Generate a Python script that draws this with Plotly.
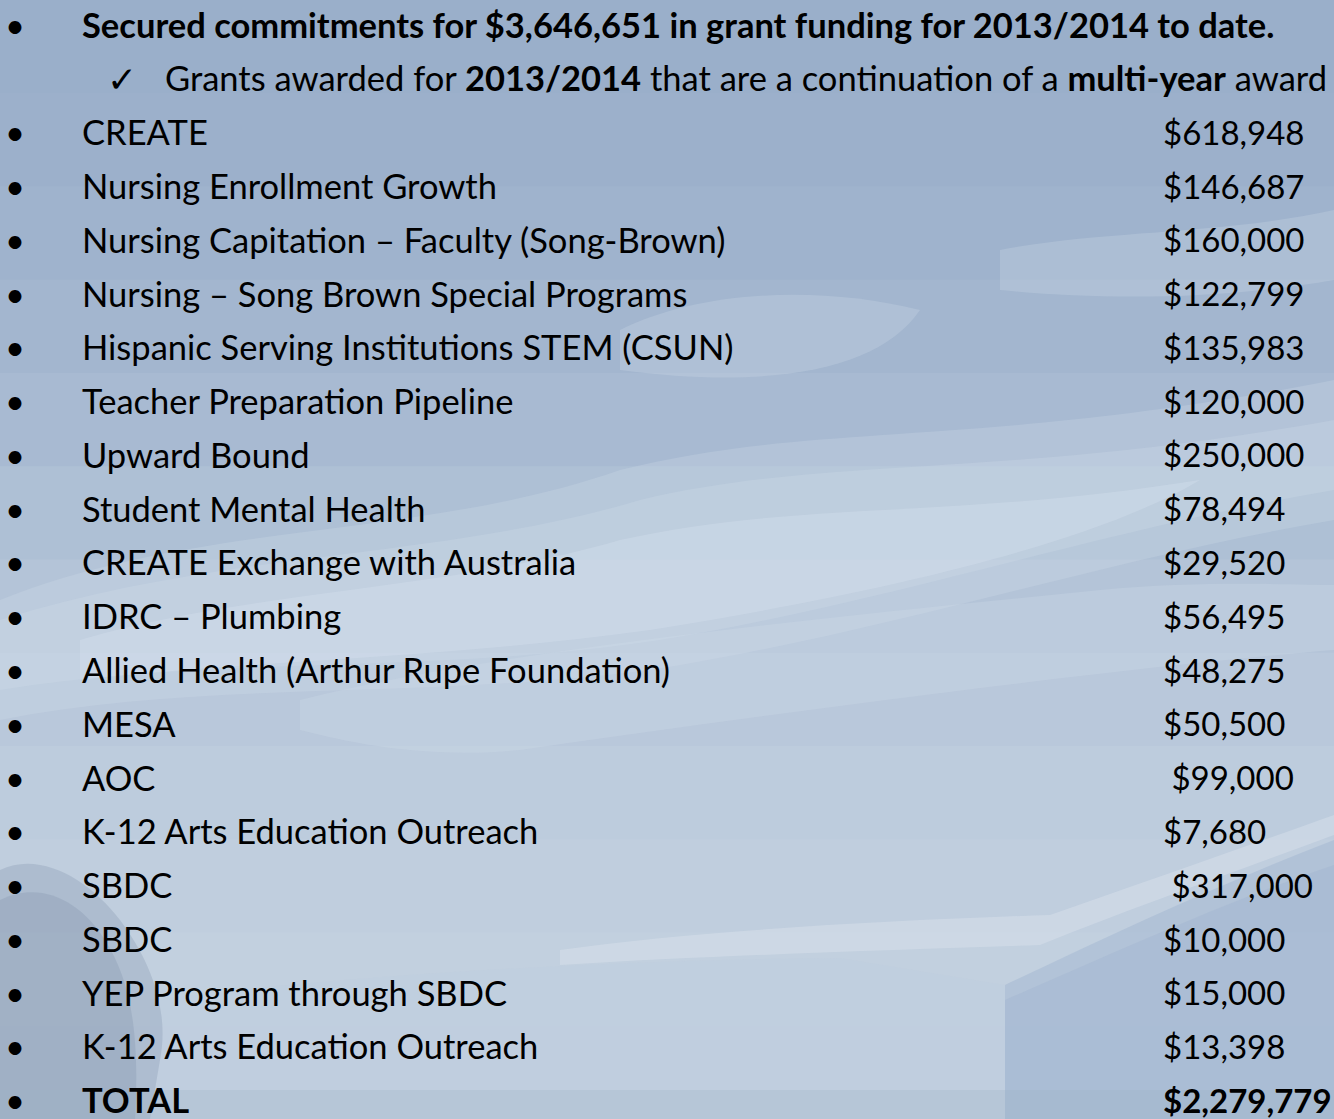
import plotly.graph_objects as go

# ---------------- data ----------------
title_text = "<b>Secured commitments for $3,646,651 in grant funding for 2013/2014 to date.</b>"
subtitle_text = "Grants awarded for <b>2013/2014</b> that are a continuation of a <b>multi-year</b> award"

grant_names = [
    "CREATE",
    "Nursing Enrollment Growth",
    "Nursing Capitation – Faculty (Song-Brown)",
    "Nursing – Song Brown Special Programs",
    "Hispanic Serving Institutions STEM (CSUN)",
    "Teacher Preparation Pipeline",
    "Upward Bound",
    "Student Mental Health",
    "CREATE Exchange with Australia",
    "IDRC – Plumbing",
    "Allied Health (Arthur Rupe Foundation)",
    "MESA",
    "AOC",
    "K-12 Arts Education Outreach",
    "SBDC",
    "SBDC",
    "YEP Program through SBDC",
    "K-12 Arts Education Outreach",
]
grant_amounts = [618948, 146687, 160000, 122799, 135983, 120000, 250000, 78494,
                 29520, 56495, 48275, 50500, 99000, 7680, 317000, 10000, 15000, 13398]
# amounts that carry a leading space in the original slide
leading_space = [False, False, False, False, False, False, False, False,
                 False, False, False, False, True, False, True, False, False, False]
total_label = "TOTAL"
total_amount = 2279779

# ---------------- layout helpers ----------------
W, H = 1334, 1119
ROW0, ROWSTEP = 29.0, 53.78
FONT = "Lato"
FS = 34.5      # label text
FS_AMT = 33    # amount text
TXT = "#000000"

n_items = len(grant_names)
item_rows = [2 + i for i in range(n_items)]
total_row = 2 + n_items

fig = go.Figure()

# bullets
bullet_rows = [0] + item_rows + [total_row]
fig.add_trace(go.Scatter(
    x=[15] * len(bullet_rows), y=bullet_rows, mode="text",
    text=["•"] * len(bullet_rows), textposition="middle center",
    textfont=dict(family=FONT, size=FS, color=TXT), hoverinfo="skip"))

# title
fig.add_trace(go.Scatter(
    x=[82], y=[0], mode="text", text=[title_text], textposition="middle right",
    textfont=dict(family=FONT, size=FS, color=TXT), hoverinfo="skip"))

# check + subtitle
fig.add_trace(go.Scatter(
    x=[122], y=[1], mode="text", text=["✓"], textposition="middle center",
    textfont=dict(family="DejaVu Sans", size=36, color=TXT), hoverinfo="skip"))
fig.add_trace(go.Scatter(
    x=[165], y=[1], mode="text", text=[subtitle_text], textposition="middle right",
    textfont=dict(family=FONT, size=FS, color=TXT), hoverinfo="skip"))

# grant names
fig.add_trace(go.Scatter(
    x=[82] * n_items, y=item_rows, mode="text", text=grant_names,
    textposition="middle right",
    textfont=dict(family=FONT, size=FS, color=TXT), hoverinfo="skip"))

# amounts
amount_labels = [(" " if sp else "") + "${:,}".format(v) for v, sp in zip(grant_amounts, leading_space)]
fig.add_trace(go.Scatter(
    x=[1163] * n_items, y=item_rows, mode="text", text=amount_labels,
    textposition="middle right",
    textfont=dict(family=FONT, size=FS_AMT, color=TXT), hoverinfo="skip"))

# total
fig.add_trace(go.Scatter(
    x=[82], y=[total_row], mode="text", text=["<b>" + total_label + "</b>"],
    textposition="middle right",
    textfont=dict(family=FONT, size=FS, color=TXT), hoverinfo="skip"))
fig.add_trace(go.Scatter(
    x=[1163], y=[total_row], mode="text", text=["<b>${:,}</b>".format(total_amount)],
    textposition="middle right",
    textfont=dict(family=FONT, size=FS_AMT, color=TXT), hoverinfo="skip"))

# ---------------- background (photo approximation) ----------------
shapes = []
# vertical gradient bands
band_colors = ["#9aafca", "#9cb0cb", "#9fb3cd", "#a3b6cf", "#a8bad2", "#aec0d5",
               "#b4c4d8", "#b9c8db", "#bdccdd", "#c0cede", "#c2d0df", "#c1cfdf"]
nb = len(band_colors)
for i, c in enumerate(band_colors):
    shapes.append(dict(type="rect", xref="paper", yref="paper",
                       x0=0, x1=1, y0=1 - (i + 1) / nb - 0.002, y1=1 - i / nb,
                       fillcolor=c, line=dict(width=0), layer="below"))

def soft(path_list, rgba):
    for p in path_list:
        shapes.append(dict(type="path", path=p, xref="x", yref="y2",
                           fillcolor=rgba, line=dict(width=0), layer="below"))

# soft clouds: layered translucent blobs to fake blur
soft([
    "M 0,600 C 200,520 420,540 620,470 C 820,420 980,450 1334,380 L 1334,520 C 1100,560 900,630 650,670 C 420,700 200,680 0,720 Z",
    "M 0,620 C 220,550 440,560 640,500 C 830,455 1000,480 1334,420 L 1334,490 C 1100,530 900,600 660,640 C 430,675 210,655 0,690 Z",
    "M 300,700 C 500,650 800,620 1100,590 C 1200,580 1300,585 1334,585 L 1334,650 C 1100,670 800,710 520,750 C 420,760 340,740 300,730 Z",
    "M 620,330 C 700,290 820,285 920,310 C 880,370 770,390 620,370 Z",
    "M 1000,250 C 1100,230 1220,235 1334,210 L 1334,280 C 1220,300 1100,300 1000,290 Z",
], "rgba(212,223,236,0.25)")
soft([
    "M 80,640 C 250,590 450,590 620,540 C 800,500 950,520 1200,480 C 1100,540 900,590 650,630 C 430,660 250,660 80,680 Z",
], "rgba(220,230,241,0.3)")

# building glass facade (right)
soft(["M 1005,1119 L 1005,985 C 1120,930 1230,880 1334,840 L 1334,1119 Z"],
     "rgba(150,172,202,0.35)")
soft(["M 1005,1119 L 1005,1000 C 1120,950 1230,900 1334,865 L 1334,1119 Z"],
     "rgba(150,172,202,0.25)")
# building roof edge highlight
soft(["M 560,950 C 700,930 900,920 1050,915 C 1150,880 1250,845 1334,815 L 1334,835 C 1240,870 1140,905 1040,945 C 900,950 720,955 560,965 Z"],
     "rgba(225,233,242,0.35)")
# building lower body (left/middle)
soft(["M 150,1119 L 150,1000 C 350,975 600,960 840,958 L 1005,985 L 1005,1119 Z"],
     "rgba(190,205,222,0.4)")
# tree (bottom left)
soft(["M 0,870 C 40,850 90,880 120,920 C 150,960 170,1010 160,1060 L 150,1119 L 0,1119 Z",
      "M 0,900 C 40,880 80,900 105,940 C 130,980 140,1030 135,1119 L 0,1119 Z"],
     "rgba(125,145,170,0.28)")
# bottom strip
shapes.append(dict(type="rect", x0=0, x1=1334, y0=1090, y1=1119, xref="x", yref="y2",
                   fillcolor="rgba(160,178,200,0.3)", line=dict(width=0), layer="below"))

fig.update_layout(
    width=W, height=H,
    margin=dict(l=0, r=0, t=0, b=0),
    showlegend=False,
    paper_bgcolor="#a9bcd3",
    plot_bgcolor="rgba(0,0,0,0)",
    shapes=shapes,
    xaxis=dict(range=[0, W], visible=False, fixedrange=True),
    yaxis=dict(range=[(H - ROW0) / ROWSTEP, -ROW0 / ROWSTEP], visible=False, fixedrange=True),
    yaxis2=dict(range=[H, 0], visible=False, overlaying="y", fixedrange=True),
)
# invisible helper trace to activate pixel-based y2 axis used by background shapes
fig.add_trace(go.Scatter(x=[0], y=[0], yaxis="y2", mode="markers",
                         marker=dict(opacity=0), hoverinfo="skip"))

fig.write_html("out.html", config={"displayModeBar": False},
               post_script="document.body.style.margin='0';document.body.style.overflow='hidden';")
